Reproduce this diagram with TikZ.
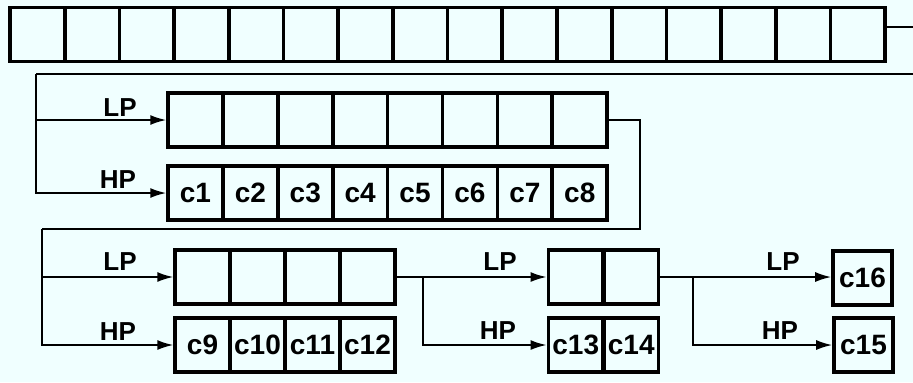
\documentclass[tikz,border=0pt]{standalone}
\usepackage{fontspec}
\setmainfont{Liberation Sans}
\usetikzlibrary{arrows.meta, positioning}
\definecolor{paper}{RGB}{240,255,255}
\tikzset{
  cell/.style={draw, line width=1.8pt, minimum width=27.4pt, minimum height=27pt,
    inner sep=0pt, font=\fontsize{14}{16}\selectfont\bfseries},
  lbl/.style={inner sep=0pt, font=\fontsize{13}{15}\selectfont\bfseries},
  conn/.style={line width=0.9pt},
  arr/.style={conn, -{Latex[length=8pt,width=5pt]}}
}
\begin{document}
\begin{tikzpicture}[x=0.5pt, y=-0.5pt]
    \fill[paper] (0,0) rectangle (913,382);
    \useasboundingbox (0,0) rectangle (913,382);

    % top row
    \foreach \i in {1,...,16}
        \node[cell] (top-\i) at ({10+54.7*(\i-0.5)},34.5) {};
    \coordinate (outR) at (913,27);
    \coordinate (inR) at (913,74);
    \coordinate (inL) at (36,74);
    \draw[conn] (top-16.north east |- outR) -- (outR);

    % first level
    \foreach \i in {1,...,8} {
        \node[cell] (lp1-\i) at ({168+54.9*(\i-0.5)},120) {};
        \node[cell] (hp1-\i) at ({168+54.9*(\i-0.5)},193) {c\i};
    }
    \node[lbl] (lpA) at (120,108) {LP};
    \node[lbl] (hpA) at (118,180) {HP};
    \draw[conn] (inR) -- (inL);
    \draw[arr] (inL) |- (lp1-1.west);
    \draw[arr] (inL) |- (hp1-1.west);

    % second level
    \coordinate (bendA) at (640,229);
    \coordinate (bendB) at (42,229);
    \draw[conn] (lp1-8.east) -| (bendA) -- (bendB);
    \foreach \i/\t in {1/c9,2/c10,3/c11,4/c12} {
        \node[cell] (lp2-\i) at ({175+55*(\i-0.5)},277) {};
        \node[cell] (hp2-\i) at ({175+55*(\i-0.5)},345) {\t};
    }
    \node[lbl] (lpB) at (120,262) {LP};
    \node[lbl] (hpB) at (118,332) {HP};
    \draw[arr] (bendB) |- (lp2-1.west);
    \draw[arr] (bendB) |- (hp2-1.west);

    % third level
    \foreach \i/\t in {1/c13,2/c14} {
        \node[cell] (lp3-\i) at ({548+55.5*(\i-0.5)},277) {};
        \node[cell] (hp3-\i) at ({548+55.5*(\i-0.5)},345) {\t};
    }
    \coordinate (splitA) at (423,277);
    \node[lbl] (lpC) at (500,262) {LP};
    \node[lbl] (hpC) at (498,331) {HP};
    \draw[arr] (lp2-4.east) -- (lp3-1.west);
    \draw[arr] (splitA) |- (hp3-1.west);

    % last level
    \node[cell, minimum width=29.5pt] (lp4) at (862.5,278) {c16};
    \node[cell, minimum width=29.5pt] (hp4) at (863.5,345) {c15};
    \coordinate (splitB) at (693,277);
    \node[lbl] (lpD) at (783,262) {LP};
    \node[lbl] (hpD) at (780,331) {HP};
    \draw[arr] (lp3-2.east) -- (splitB) -- (lp4.west |- splitB);
    \draw[arr] (splitB) |- (hp4.west);
\end{tikzpicture}
\end{document}
